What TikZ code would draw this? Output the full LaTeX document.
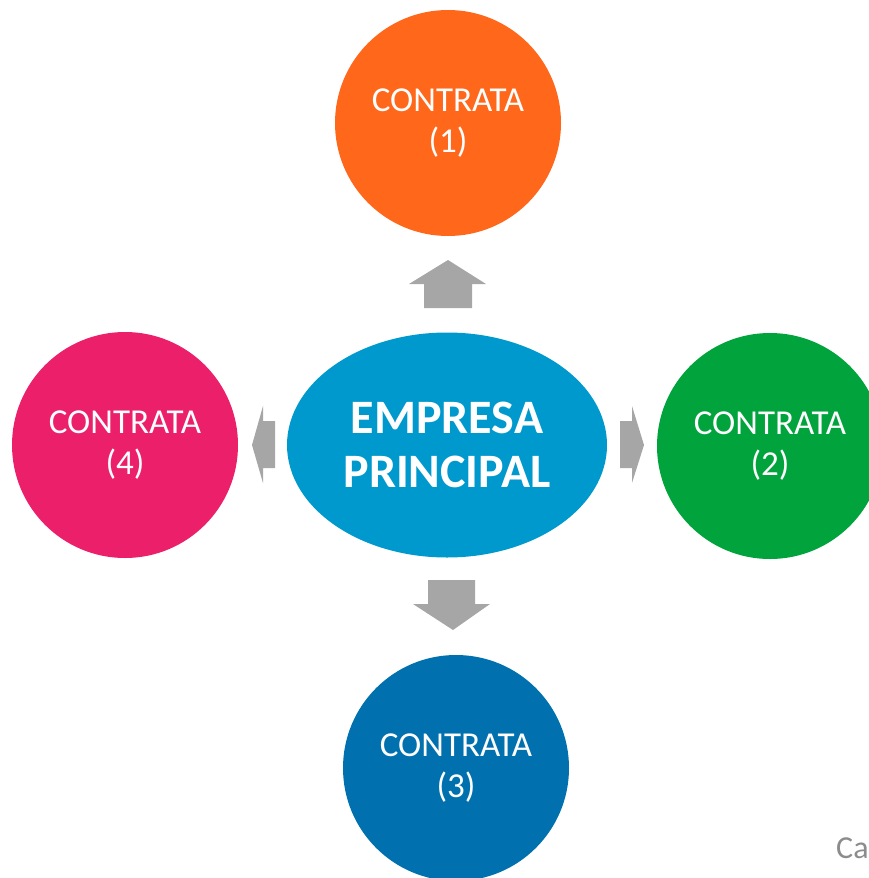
\documentclass[tikz,border=0pt]{standalone}
\usepackage{fontspec}
\setmainfont{Carlito}
\usetikzlibrary{shapes.geometric}

\definecolor{orangeC}{HTML}{FF671B}
\definecolor{greenC}{HTML}{00A33C}
\definecolor{blueC}{HTML}{0070AE}
\definecolor{pinkC}{HTML}{EC1F6B}
\definecolor{mainC}{HTML}{0099CD}
\definecolor{arrowC}{HTML}{A6A6A6}
\definecolor{noteC}{HTML}{8C8C8C}

\tikzset{
    contrata/.style={circle, minimum size=226pt, inner sep=0pt, text=white,
        align=center, font=\fontsize{35}{41}\selectfont},
    principal/.style={ellipse, minimum width=320pt, minimum height=225pt,
        inner sep=0pt, fill=mainC, text=white, align=center,
        font=\fontsize{48}{54}\selectfont\bfseries},
    blockarrow/.style={fill=arrowC}
}

\begin{document}
\begin{tikzpicture}[x=1pt, y=-1pt]
        \useasboundingbox (0,0) rectangle (869,878);
        \clip (0,0) rectangle (869,878);

        % centre and the four contractors
        \node[principal] (main) at (447,445) {EMPRESA\\PRINCIPAL};
        \node[contrata, fill=orangeC] (c1) at (448,123) {CONTRATA\\(1)};
        \node[contrata, fill=greenC] (c2) at (770,446) {CONTRATA\\(2)};
        \node[contrata, fill=blueC] (c3) at (456,768) {CONTRATA\\(3)};
        \node[contrata, fill=pinkC] (c4) at (125,445) {CONTRATA\\(4)};

        % arrows
        \fill[blockarrow] (424,308) -- (424,284) -- (409,284) -- (448,260)
            -- (486,284) -- (472,284) -- (472,308) -- cycle;
        \fill[blockarrow] (620,421) -- (632,421) -- (632,406) -- (644,445)
            -- (632,483) -- (632,468) -- (620,468) -- cycle;
        \fill[blockarrow] (428,580) -- (475,580) -- (475,604) -- (490,604)
            -- (453,630) -- (413,604) -- (428,604) -- cycle;
        \fill[blockarrow] (275,421) -- (263,421) -- (263,406) -- (252,445)
            -- (263,483) -- (263,468) -- (275,468) -- cycle;

        \node[anchor=base west, inner sep=0pt, text=noteC,
            font=\fontsize{32}{36}\selectfont] (note) at (836,858) {Ca};
    \end{tikzpicture}
\end{document}
